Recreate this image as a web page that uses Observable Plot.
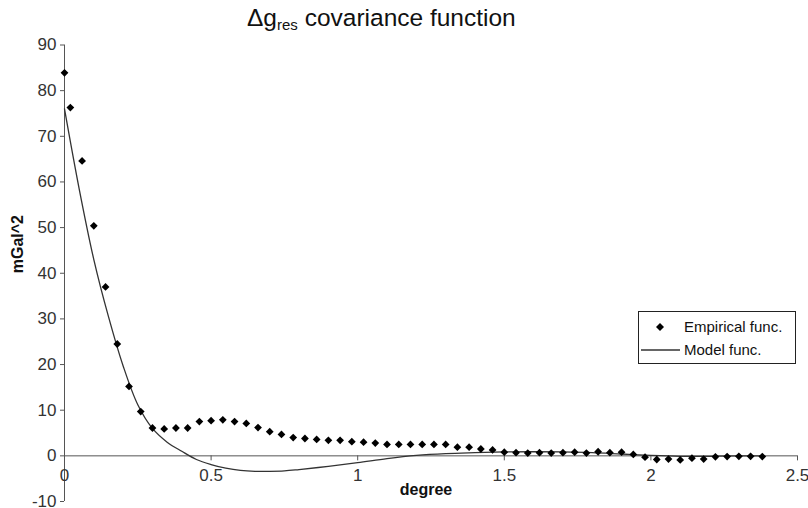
<!DOCTYPE html>
<html>
<head>
<meta charset="utf-8">
<script src="https://cdn.jsdelivr.net/npm/d3@7"></script>
<script src="https://cdn.jsdelivr.net/npm/@observablehq/plot@0.6"></script>
<style>
  html, body { margin: 0; padding: 0; background: #fff; }
  #wrap { position: relative; width: 808px; height: 508px; overflow: hidden; font-family: Arial, "Liberation Sans", sans-serif; }
  #title { height: 32px; position: relative; }
  #title span.t { position: absolute; left: 247px; top: 6px; font-size: 24.5px; line-height: 24px; color: #111; white-space: nowrap; }
  #title sub { font-size: 15px; vertical-align: -4px; line-height: 0; }
  #legend { position: absolute; left: 638px; top: 311px; width: 158px; height: 53px; border: 1px solid #222; background: #fff; box-sizing: border-box; }
  #legend .row { position: absolute; left: 0; height: 20px; width: 158px; }
  #legend .lab { position: absolute; left: 45px; top: 0; font-size: 15px; line-height: 20px; color: #111; white-space: nowrap; }
  #legend svg { position: absolute; left: 0; top: 0; }
</style>
</head>
<body>
<div id="wrap">
  <div id="title"><span class="t">&Delta;g<sub>res</sub> covariance function</span></div>
  <div id="chart"></div>
  <div id="legend">
    <div class="row" style="top:5px">
      <svg width="44" height="20"><path d="M21,6 L25,10 L21,14 L17,10 Z" fill="#000"/></svg>
      <span class="lab">Empirical func.</span>
    </div>
    <div class="row" style="top:28px">
      <svg width="44" height="20"><line x1="2" x2="41" y1="10" y2="10" stroke="#333" stroke-width="1.3"/></svg>
      <span class="lab">Model func.</span>
    </div>
  </div>
</div>
<script>
// Empirical covariance values (mGal^2) at lag distance (degree)
const empDeg = [0, 0.02, 0.06, 0.10, 0.14, 0.18, 0.22, 0.26, 0.30, 0.34, 0.38, 0.42, 0.46, 0.50, 0.54, 0.58,
  0.62, 0.66, 0.70, 0.74, 0.78, 0.82, 0.86, 0.90, 0.94, 0.98, 1.02, 1.06, 1.10, 1.14, 1.18, 1.22,
  1.26, 1.30, 1.34, 1.38, 1.42, 1.46, 1.50, 1.54, 1.58, 1.62, 1.66, 1.70, 1.74, 1.78, 1.82, 1.86,
  1.90, 1.94, 1.98, 2.02, 2.06, 2.10, 2.14, 2.18, 2.22, 2.26, 2.30, 2.34, 2.38];
const empCov = [83.9, 76.3, 64.6, 50.4, 37.0, 24.5, 15.2, 9.7, 6.1, 5.9, 6.1, 6.1, 7.5, 7.7, 7.9, 7.5,
  7.1, 6.2, 5.3, 4.7, 4.0, 3.8, 3.6, 3.4, 3.4, 3.1, 3.0, 2.8, 2.5, 2.5, 2.5, 2.5,
  2.5, 2.5, 1.9, 1.9, 1.5, 1.3, 0.8, 0.7, 0.6, 0.7, 0.6, 0.7, 0.8, 0.6, 0.9, 0.7,
  0.8, 0.3, -0.3, -0.8, -0.7, -0.9, -0.5, -0.7, -0.2, -0.15, -0.1, -0.1, -0.15];

// Model covariance function
const modelDeg = [0, 0.05, 0.10, 0.15, 0.20, 0.25, 0.30, 0.35, 0.40, 0.45, 0.50, 0.55, 0.60, 0.65, 0.70,
  0.75, 0.80, 0.90, 1.00, 1.10, 1.20, 1.30, 1.40, 1.50, 1.60, 1.70, 1.80, 1.90, 2.00, 2.10, 2.20, 2.30, 2.38];
const modelCov = [76, 58.5, 43, 30.5, 19.7, 11.2, 6.0, 3.0, 1.0, -0.8, -1.9, -2.7, -3.2, -3.4, -3.4,
  -3.3, -3.0, -2.3, -1.5, -0.6, 0.1, 0.5, 0.7, 0.85, 0.9, 0.85, 0.7, 0.4, 0.1, -0.1, -0.1, 0, 0];

// Axis ticks
const xTicks = [0, 0.5, 1, 1.5, 2, 2.5];
const xTickLabels = ["0", "0.5", "1", "1.5", "2", "2.5"];
const yTicks = [-10, 0, 10, 20, 30, 40, 50, 60, 70, 80, 90];

const emp = empDeg.map((d, i) => ({deg: d, cov: empCov[i]}));
const model = modelDeg.map((d, i) => ({deg: d, cov: modelCov[i]}));
const xt = xTicks.map((d, i) => ({v: d, label: xTickLabels[i]}));

const chart = Plot.plot({
  width: 808,
  height: 476,
  marginLeft: 64,
  marginRight: 11,
  marginTop: 12.5,
  marginBottom: 7,
  style: {fontFamily: "Arial, 'Liberation Sans', sans-serif", background: "#fff", overflow: "visible"},
  x: {domain: [0, 2.5], axis: null},
  y: {domain: [-10, 90], axis: null},
  marks: [
    Plot.axisY(yTicks, {anchor: "left", tickSize: 4, tickPadding: 4, fontSize: 17, color: "#333", stroke: "#555", label: null, tickFormat: d => String(d)}),
    Plot.ruleX([0], {stroke: "#555", strokeWidth: 1}),
    Plot.ruleY([0], {stroke: "#555", strokeWidth: 1}),
    Plot.ruleX(xt, {x: "v", y1: 0, y2: 0, insetBottom: -5, stroke: "#555"}),
    Plot.text(xt, {x: "v", y: () => 0, text: "label", dy: 20, fontSize: 17, fill: "#333"}),
    Plot.line(model, {x: "deg", y: "cov", stroke: "#333", strokeWidth: 1.3, curve: "catmull-rom"}),
    Plot.dot(emp, {x: "deg", y: "cov", symbol: "diamond2", r: 3.5, fill: "#000", stroke: "none"}),
    Plot.text(["mGal^2"], {text: d => d, frameAnchor: "left", dx: -47, rotate: -90, fontSize: 16, fontWeight: "bold", fill: "#111"}),
    Plot.text(["degree"], {text: d => d, frameAnchor: "bottom", dx: -5, dy: -7, fontSize: 16, fontWeight: "bold", fill: "#111"})
  ]
});
document.getElementById("chart").appendChild(chart);
</script>
</body>
</html>
